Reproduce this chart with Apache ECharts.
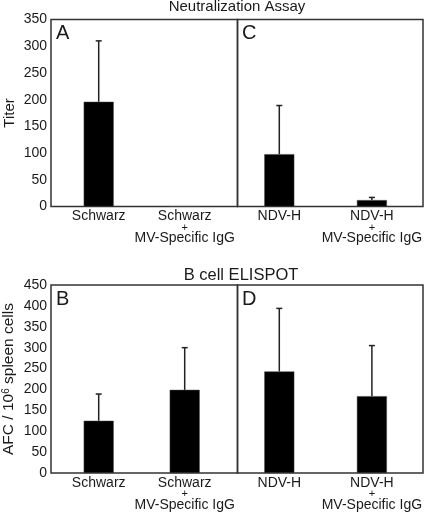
<!DOCTYPE html>
<html>
<head>
<meta charset="utf-8">
<script src="https://cdn.jsdelivr.net/npm/echarts@6/dist/echarts.min.js"></script>
<style>html,body{margin:0;padding:0;background:#fff}#c{width:425px;height:513px}</style>
</head>
<body>
<div id="c"></div>
<script>
// ---- data ----
const schwarzCats = ['Schwarz', 'Schwarz|MV-Specific IgG'];
const ndvCats = ['NDV-H', 'NDV-H|MV-Specific IgG'];
const neutTicks = [0, 350, 50];      // min, max, interval
const elispotTicks = [0, 450, 50];
const neutSchwarzMean = [196, 0];
const neutSchwarzErr = [114, 0];
const neutNdvMean = [98, 12];
const neutNdvErr = [91, 5];
const elispotSchwarzMean = [125, 199];
const elispotSchwarzErr = [64, 101];
const elispotNdvMean = [243, 184];
const elispotNdvErr = [151, 121];
const titles = ['Neutralization Assay', 'B cell ELISPOT'];
const panelLetters = ['A', 'C', 'B', 'D'];
const yNames = ['Titer', 'AFC / 10{s|6} spleen cells'];

// ---- layout ----
const FONT = 'Liberation Sans, Arial, sans-serif';
const TXT = '#1a1a1a';
const topY = [19.5, 285], hgt = [187, 188];
const frameX = [[51, 186.5], [237.5, 185.5]];
const dataX = [[55.7, 172], [233, 185.5]];

const chart = echarts.init(document.getElementById('c'), null, {renderer: 'canvas'});
const grids = [], xAxes = [], yAxes = [], series = [];

function catLabel(v) {
  const p = v.split('|');
  return p.length > 1 ? p[0] + '\n{p|+}\n' + p[1] : p[0];
}

const panels = [
  {row: 0, col: 0, cats: schwarzCats, mean: neutSchwarzMean, err: neutSchwarzErr, ticks: neutTicks},
  {row: 0, col: 1, cats: ndvCats, mean: neutNdvMean, err: neutNdvErr, ticks: neutTicks},
  {row: 1, col: 0, cats: schwarzCats, mean: elispotSchwarzMean, err: elispotSchwarzErr, ticks: elispotTicks},
  {row: 1, col: 1, cats: ndvCats, mean: elispotNdvMean, err: elispotNdvErr, ticks: elispotTicks}
];

// frame grids (0..3)
panels.forEach((p, i) => {
  grids.push({left: frameX[p.col][0], width: frameX[p.col][1], top: topY[p.row], height: hgt[p.row],
    show: true, borderColor: '#333', borderWidth: 1.5, backgroundColor: 'transparent'});
  xAxes.push({gridIndex: i, type: 'value', show: false, min: 0, max: 1});
  yAxes.push({gridIndex: i, type: 'value', min: p.ticks[0], max: p.ticks[1], interval: p.ticks[2],
    show: p.col === 0,
    axisLine: {show: false}, axisTick: {show: false}, splitLine: {show: false},
    axisLabel: {show: p.col === 0, margin: 4, fontFamily: FONT, fontSize: 14, color: TXT},
    name: p.col === 0 ? yNames[p.row] : '', nameLocation: 'middle', nameGap: 34,
    nameTextStyle: {fontFamily: FONT, fontSize: p.row === 0 ? 15 : 15.5, color: TXT,
      padding: p.row === 0 ? 0 : [0, 0, 0, 0],
      rich: {s: {fontFamily: FONT, fontSize: 10, color: TXT, verticalAlign: 'top', padding: [0, 0, 6, 0]}}}
  });
});
// data grids (4..7)
panels.forEach((p, i) => {
  const gi = i + 4;
  grids.push({left: dataX[p.col][0], width: dataX[p.col][1], top: topY[p.row], height: hgt[p.row]});
  xAxes.push({gridIndex: gi, type: 'category', data: p.cats,
    axisLine: {show: false}, axisTick: {show: false},
    axisLabel: {interval: 0, margin: 4, fontFamily: FONT, fontSize: 14, color: TXT, lineHeight: 12,
      formatter: catLabel, rich: {p: {fontFamily: FONT, fontSize: 11, color: TXT, lineHeight: 10}}}});
  yAxes.push({gridIndex: gi, type: 'value', min: p.ticks[0], max: p.ticks[1], interval: p.ticks[2], show: false,
    splitLine: {show: false}});
  series.push({type: 'bar', xAxisIndex: gi, yAxisIndex: gi, data: p.mean, barWidth: 30,
    itemStyle: {color: '#000', borderColor: '#444', borderWidth: 0.5}, silent: true});
  series.push({type: 'custom', xAxisIndex: gi, yAxisIndex: gi, silent: true, z: 3,
    data: p.mean.map((m, k) => [k, m, m + p.err[k]]),
    renderItem: function (params, api) {
      const m = api.value(1), t = api.value(2);
      if (t <= m) return null;
      const a = api.coord([api.value(0), m]);
      const b = api.coord([api.value(0), t]);
      const st = {stroke: '#222', lineWidth: 1.5};
      return {type: 'group', children: [
        {type: 'line', shape: {x1: a[0], y1: a[1], x2: b[0], y2: b[1]}, style: st},
        {type: 'line', shape: {x1: b[0] - 3, y1: b[1], x2: b[0] + 3, y2: b[1]}, style: st}
      ]};
    }});
});

const titleComps = [
  {text: titles[0], left: 237, top: -1, textAlign: 'center', fs: 15},
  {text: titles[1], left: 241, top: 267, textAlign: 'center', fs: 16.5},
  {text: panelLetters[0], left: 56, top: 23, fs: 20},
  {text: panelLetters[1], left: 242, top: 23, fs: 20},
  {text: panelLetters[2], left: 56, top: 289, fs: 20},
  {text: panelLetters[3], left: 242, top: 289, fs: 20}
].map(t => {
  const fs = t.fs; delete t.fs;
  return Object.assign(t, {padding: 0, textStyle: {fontFamily: FONT, fontWeight: 'normal', color: TXT, fontSize: fs}});
});

chart.setOption({
  animation: false,
  backgroundColor: '#fff',
  title: titleComps,
  grid: grids, xAxis: xAxes, yAxis: yAxes, series: series
});
</script>
</body>
</html>
